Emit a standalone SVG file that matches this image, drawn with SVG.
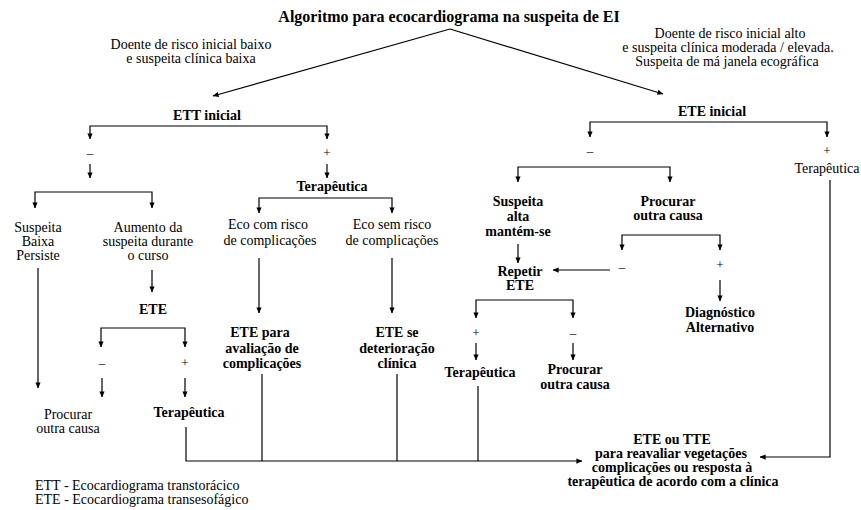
<svg xmlns="http://www.w3.org/2000/svg" width="861" height="510" viewBox="0 0 861 510">
<defs>
<style>
text { font-family: "Liberation Serif", "Times New Roman", "DejaVu Serif", serif; font-size: 14px; fill: #000; text-anchor: middle; }
.b { font-weight: bold; }
.t { font-weight: bold; font-size: 16px; }
.l { text-anchor: start; }
.s { font-size: 13px; }
.ln { fill: none; stroke: #000; stroke-width: 1.2; }
.ar { marker-end: url(#ah); }
</style>
<marker id="ah" viewBox="0 0 8 8" refX="7.5" refY="4" markerWidth="6" markerHeight="6" orient="auto" markerUnits="userSpaceOnUse">
<path d="M0,0.5 L8,4 L0,7.5 z" fill="#000"/>
</marker>
</defs>
<rect width="861" height="510" fill="#fff"/>

<g id="connectors">
<path class="ln ar" d="M450,29 L213,96"/>
<path class="ln ar" d="M450,29 L663,94"/>
<path class="ln ar" d="M208,126 H90 V139"/>
<path class="ln ar" d="M208,126 H327 V139"/>
<path class="ln ar" d="M90,164 V178"/>
<path class="ln ar" d="M327,164 V178"/>
<path class="ln ar" d="M93,192 H35 V208"/>
<path class="ln ar" d="M93,192 H152 V208"/>
<path class="ln ar" d="M325,198 H259 V213"/>
<path class="ln ar" d="M325,198 H392 V213"/>
<path class="ln ar" d="M259,258 V313"/>
<path class="ln ar" d="M392,258 V313"/>
<path class="ln ar" d="M38,268 V388"/>
<path class="ln ar" d="M152,270 V292"/>
<path class="ln ar" d="M142,328 H101 V347"/>
<path class="ln ar" d="M142,328 H185 V347"/>
<path class="ln ar" d="M102,378 V397"/>
<path class="ln ar" d="M185,378 V397"/>
<path class="ln ar" d="M186,427 V461 H582"/>
<path class="ln" d="M262,374 V461"/>
<path class="ln" d="M397,374 V461"/>
<path class="ln" d="M478,386 V461"/>
<path class="ln ar" d="M830,180 V457 H760"/>
<path class="ln ar" d="M708,122 H590 V137"/>
<path class="ln ar" d="M708,122 H827 V137"/>
<path class="ln ar" d="M594,167 H518 V182"/>
<path class="ln ar" d="M594,167 H670 V182"/>
<path class="ln ar" d="M518,244 V263"/>
<path class="ln ar" d="M671,235 H622 V250"/>
<path class="ln ar" d="M671,235 H720 V250"/>
<path class="ln ar" d="M610,270 H553"/>
<path class="ln ar" d="M720,280 V301"/>
<path class="ln ar" d="M524,300 H476 V318"/>
<path class="ln ar" d="M524,300 H573 V318"/>
<path class="ln ar" d="M476,343 V360"/>
<path class="ln ar" d="M573,343 V360"/>
</g>

<g id="n-title"><text class="t" x="449" y="22">Algoritmo para ecocardiograma na suspeita de EI</text></g>
<g id="n-baixo"><text x="191" y="49">Doente de risco inicial baixo</text><text x="191" y="63">e suspeita clínica baixa</text></g>
<g id="n-alto"><text x="730" y="38">Doente de risco inicial alto</text><text x="728" y="52">e suspeita clínica moderada / elevada.</text><text x="727" y="66">Suspeita de má janela ecográfica</text></g>
<g id="n-ett"><text class="b" x="207" y="120">ETT inicial</text></g>
<g id="n-ete-inicial"><text class="b" x="712" y="116">ETE inicial</text></g>

<g id="n-signs-left"><text class="s" x="90" y="157">–</text><text class="s" x="327" y="157">+</text></g>
<g id="n-susp-baixa"><text x="38" y="232">Suspeita</text><text x="38" y="246">Baixa</text><text x="38" y="260">Persiste</text></g>
<g id="n-aumento"><text x="148" y="232">Aumento da</text><text x="148" y="246">suspeita durante</text><text x="148" y="260">o curso</text></g>
<g id="n-terap1"><text class="b" x="332" y="191">Terapêutica</text></g>
<g id="n-eco-com"><text x="268" y="229">Eco com risco</text><text x="270" y="245">de complicações</text></g>
<g id="n-eco-sem"><text x="392" y="229">Eco sem risco</text><text x="392" y="245">de complicações</text></g>
<g id="n-ete2"><text class="b" x="153" y="314">ETE</text></g>
<g id="n-signs-ete"><text class="s" x="102" y="367">–</text><text class="s" x="185" y="367">+</text></g>
<g id="n-procurar1"><text x="68" y="419">Procurar</text><text x="68" y="433">outra causa</text></g>
<g id="n-terap2"><text class="b" x="189" y="417">Terapêutica</text></g>
<g id="n-ete-aval"><text class="b" x="260" y="337">ETE para</text><text class="b" x="262" y="353">avaliação de</text><text class="b" x="262" y="368">complicações</text></g>
<g id="n-ete-det"><text class="b" x="397" y="337">ETE se</text><text class="b" x="397" y="353">deterioração</text><text class="b" x="397" y="368">clínica</text></g>

<g id="n-signs-right"><text class="s" x="590" y="155">–</text><text class="s" x="827" y="155">+</text></g>
<g id="n-terap3"><text x="827" y="173">Terapêutica</text></g>
<g id="n-susp-alta"><text class="b" x="518" y="206">Suspeita</text><text class="b" x="518" y="221">alta</text><text class="b" x="518" y="236">mantém-se</text></g>
<g id="n-procurar2"><text class="b" x="668" y="206">Procurar</text><text class="b" x="668" y="220">outra causa</text></g>
<g id="n-signs-proc"><text class="s" x="622" y="271">–</text><text class="s" x="720" y="269">+</text></g>
<g id="n-repetir"><text class="b" x="520" y="276">Repetir</text><text class="b" x="520" y="290">ETE</text></g>
<g id="n-diag"><text class="b" x="720" y="317">Diagnóstico</text><text class="b" x="720" y="332">Alternativo</text></g>
<g id="n-signs-rep"><text class="s" x="476" y="337">+</text><text class="s" x="573" y="337">–</text></g>
<g id="n-terap4"><text class="b" x="480" y="377">Terapêutica</text></g>
<g id="n-procurar3"><text class="b" x="575" y="374">Procurar</text><text class="b" x="575" y="389">outra causa</text></g>
<g id="n-final"><text class="b" x="672" y="444">ETE ou TTE</text><text class="b" x="671" y="458">para reavaliar vegetações</text><text class="b" x="672" y="472">complicações ou resposta à</text><text class="b" x="673" y="486">terapêutica de acordo com a clínica</text></g>

<g id="n-legend"><text class="l" x="35" y="490">ETT - Ecocardiograma transtorácico</text><text class="l" x="35" y="504">ETE - Ecocardiograma transesofágico</text></g>
</svg>
